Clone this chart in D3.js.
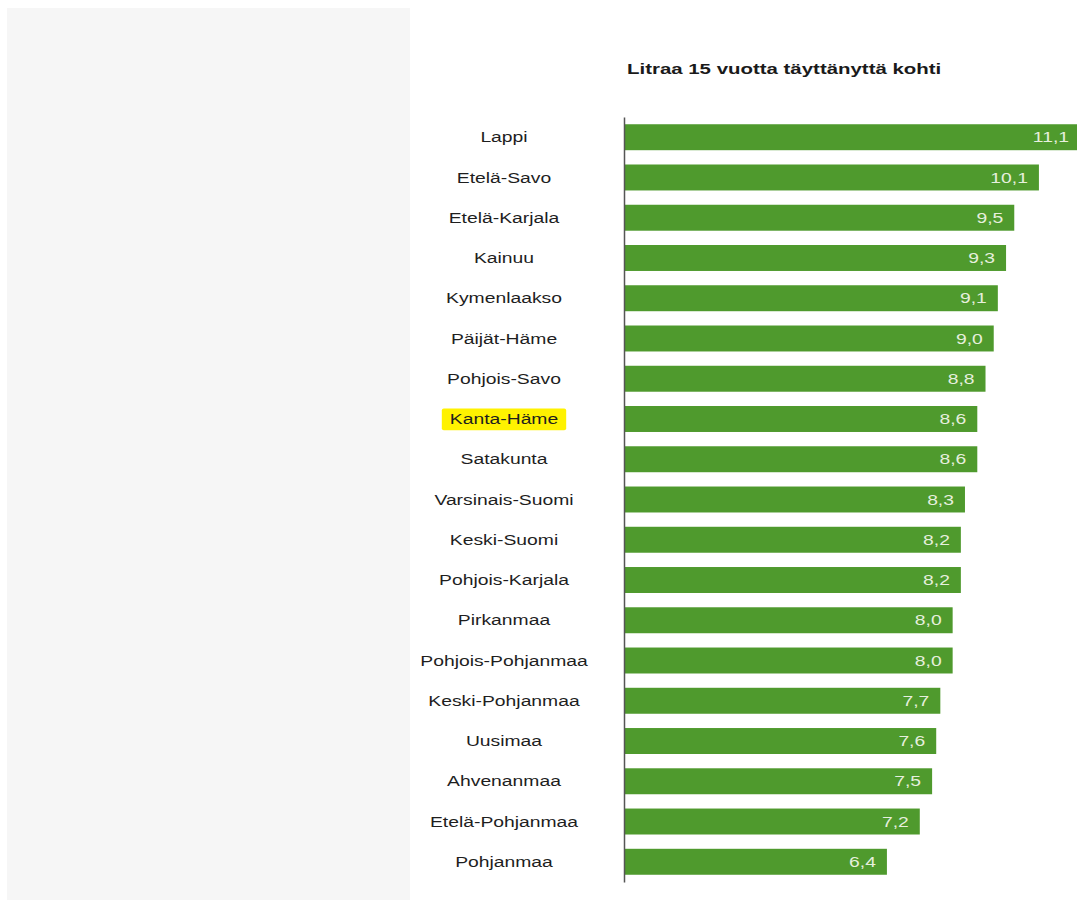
<!DOCTYPE html>
<html>
<head>
<meta charset="utf-8">
<script src="https://cdn.jsdelivr.net/npm/d3@7/dist/d3.min.js"></script>
<style>
  html, body { margin: 0; padding: 0; background: #fff; }
  svg { display: block; font-family: "Liberation Sans", Arial, sans-serif; }
</style>
</head>
<body>
<svg id="chart" width="1077" height="900"></svg>
<script>
const regions = ["Lappi", "Etelä-Savo", "Etelä-Karjala", "Kainuu", "Kymenlaakso", "Päijät-Häme",
  "Pohjois-Savo", "Kanta-Häme", "Satakunta", "Varsinais-Suomi", "Keski-Suomi", "Pohjois-Karjala",
  "Pirkanmaa", "Pohjois-Pohjanmaa", "Keski-Pohjanmaa", "Uusimaa", "Ahvenanmaa", "Etelä-Pohjanmaa", "Pohjanmaa"];
const litres = [11.1, 10.1, 9.5, 9.3, 9.1, 9.0, 8.8, 8.6, 8.6, 8.3, 8.2, 8.2, 8.0, 8.0, 7.7, 7.6, 7.5, 7.2, 6.4];
const highlighted = ["Kanta-Häme"];
const title = "Litraa 15 vuotta täyttänyttä kohti";

// text is drawn in a wide face: glyphs stretched horizontally
const stretch = 1.38;

const svg = d3.select("#chart");

// pale side panel
svg.append("rect").attr("x", 7).attr("y", 8).attr("width", 403).attr("height", 892).attr("fill", "#f6f6f6");

const x = d3.scaleLinear().domain([0, 11.1]).range([624, 1080]);
const y = d3.scaleBand().domain(regions).range([117, 882]).paddingInner(0.355).paddingOuter(0.18);

svg.append("text")
  .attr("transform", `translate(627,74) scale(${stretch},1)`)
  .attr("font-size", 14.8).attr("font-weight", "bold").attr("fill", "#1a1a1a")
  .text(title);

const data = regions.map((r, i) => ({ region: r, value: litres[i] }));

svg.append("g").selectAll("rect").data(data).join("rect")
  .attr("x", x(0)).attr("y", d => y(d.region))
  .attr("width", d => x(d.value) - x(0)).attr("height", y.bandwidth())
  .attr("fill", "#4f9a2d");

svg.append("g").selectAll("text").data(data).join("text")
  .attr("transform", d => `translate(${x(d.value) - 11},${y(d.region) + y.bandwidth() / 2}) scale(${stretch},1)`)
  .attr("dy", "0.36em").attr("text-anchor", "end")
  .attr("font-size", 14).attr("fill", "#e6efdd")
  .text(d => d3.format(".1f")(d.value).replace(".", ","));

// category labels
const labelX = 504;
const labels = svg.append("g").selectAll("g").data(data).join("g")
  .attr("transform", d => `translate(${labelX},${y(d.region) + y.bandwidth() / 2})`);
labels.append("text")
  .attr("transform", `scale(${stretch},1)`)
  .attr("text-anchor", "middle").attr("dy", "0.36em")
  .attr("font-size", 14).attr("fill", "#1e1e1e")
  .text(d => d.region)
  .each(function(d) {
    if (highlighted.includes(d.region)) {
      const b = this.getBBox();
      const w = b.width * stretch;
      d3.select(this.parentNode).insert("rect", "text")
        .attr("x", -w / 2 - 8).attr("y", b.y - 3).attr("width", w + 16).attr("height", b.height + 6)
        .attr("rx", 2).attr("fill", "#fff200");
    }
  });

// value axis baseline
svg.append("g").attr("transform", `translate(${x(0)},0)`)
  .call(d3.axisLeft(y).tickSize(0).tickFormat(""))
  .call(g => g.select(".domain").attr("stroke", "#555").attr("stroke-width", 1.5));
</script>
</body>
</html>
